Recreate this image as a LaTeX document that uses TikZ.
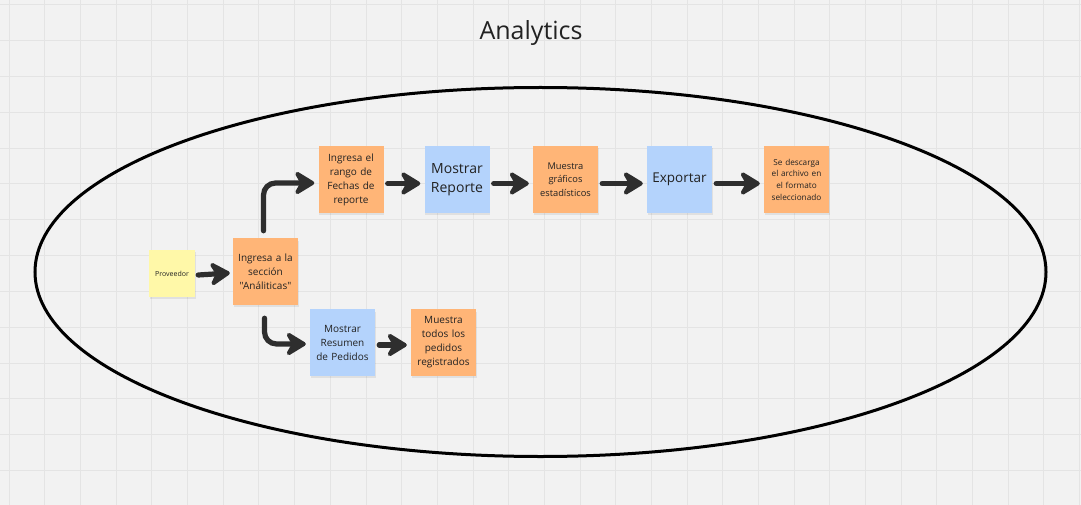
\documentclass[tikz,border=0pt]{standalone}
\usepackage{fontspec}
\setmainfont{Open Sans}[Ligatures=TeXOff]
\usetikzlibrary{arrows.meta}
\definecolor{bg}{HTML}{F2F2F2}
\definecolor{gridc}{HTML}{E4E4E4}
\definecolor{orng}{HTML}{FFB577}
\definecolor{blu}{HTML}{B4D3FC}
\definecolor{yel}{HTML}{FFF8A8}
\definecolor{arrc}{HTML}{2E2E2E}
\definecolor{txt}{HTML}{222222}
\tikzset{
  sticky/.style={minimum width=65pt, minimum height=67pt, inner sep=0pt, text width=62pt, align=center, text=txt},
  orangebox/.style={sticky, fill=orng},
  bluebox/.style={sticky, fill=blu},
  yellowbox/.style={sticky, fill=yel, minimum width=46pt, minimum height=47pt, text width=44pt},
  arr/.style={draw=arrc, line width=5.2pt, line cap=round,
    -{Stealth[length=24pt, width=29pt, inset=8pt, round]}},
  shadowbelow/.style={fill=black, opacity=0.07},
  fsmall/.style={font=\fontsize{10}{14}\selectfont},
  fbig/.style={font=\fontsize{14}{19.5}\selectfont}
}
\begin{document}
\begin{tikzpicture}[x=1pt, y=-1pt]
\useasboundingbox (0,0) rectangle (1081,505);
\fill[bg] (0,0) rectangle (1081,505);
\foreach \i in {0,...,30} {
  \draw[gridc, line width=1pt] ({9.3+35.67*\i},0) -- ({9.3+35.67*\i},505);
}
\foreach \j in {0,...,14} {
  \draw[gridc, line width=1pt] (0,{5+35.8*\j}) -- (1081,{5+35.8*\j});
}
\node[text=txt, font=\fontsize{25}{30}\selectfont] (title) at (531,33) {Analytics};
\draw[line width=3pt, black] (540.5,272) ellipse [x radius=505.5, y radius=184.5];

% shadows
\foreach \cx/\cy in {265.5/271.5, 351/179.5, 457/179.5, 565.5/179.5, 679.5/179.5, 796.5/179.5, 342.5/342.5, 443.5/342.5} {
  \fill[shadowbelow] ({\cx-32},{\cy-31}) rectangle ({\cx+33},{\cy+35});
}
\fill[shadowbelow] (150,252) rectangle (196,299);

\node[yellowbox, font=\fontsize{7}{9}\selectfont] (prov) at (172,273.5) {Proveedor};
\node[orangebox, fsmall] (ing) at (265.5,271.5) {Ingresa a la\\secci\'on\\"An\'aliticas"};
\node[orangebox, fsmall] (rango) at (351,179.5) {Ingresa el\\rango de\\Fechas de\\reporte};
\node[bluebox, fbig] (rep) at (457,179.5) {Mostrar\\Reporte};
\node[orangebox, font=\fontsize{9.3}{13.3}\selectfont] (graf) at (565.5,179.5) {Muestra\\gr\'aficos\\estad\'isticos};
\node[bluebox, font=\fontsize{13.5}{19}\selectfont] (exp) at (679.5,179.5) {Exportar};
\node[orangebox, font=\fontsize{8.2}{11.7}\selectfont] (desc) at (796.5,179.5) {Se descarga\\el archivo en\\el formato\\seleccionado};
\node[bluebox, fsmall] (res) at (342.5,342.5) {Mostrar\\Resumen\\de Pedidos};
\node[orangebox, fsmall] (todos) at (443.5,342.5) {Muestra\\todos los\\pedidos\\registrados};

\draw[arr] ([xshift=3pt,yshift=-1.5pt]prov.east) -- ([xshift=-3pt,yshift=-1.5pt]ing.west);
\draw[arr, rounded corners=12pt] ([xshift=-2pt,yshift=7pt]ing.north) |- ([xshift=-4pt,yshift=-3.5pt]rango.west);
\draw[arr, rounded corners=12pt] ([xshift=-1pt,yshift=-13pt]ing.south) |- ([xshift=-4pt,yshift=-1.5pt]res.west);
\draw[arr] ([xshift=4pt,yshift=-4pt]rango.east) -- ([xshift=-4pt,yshift=-4pt]rep.west);
\draw[arr] ([xshift=4pt,yshift=-4pt]rep.east) -- ([xshift=-4pt,yshift=-4pt]graf.west);
\draw[arr] ([xshift=4pt,yshift=-4pt]graf.east) -- ([xshift=-4pt,yshift=-4pt]exp.west);
\draw[arr] ([xshift=4pt,yshift=-4pt]exp.east) -- ([xshift=-4pt,yshift=-4pt]desc.west);
\draw[arr] ([xshift=4pt,yshift=-2.5pt]res.east) -- ([xshift=-4pt,yshift=-2.5pt]todos.west);
\end{tikzpicture}
\end{document}
